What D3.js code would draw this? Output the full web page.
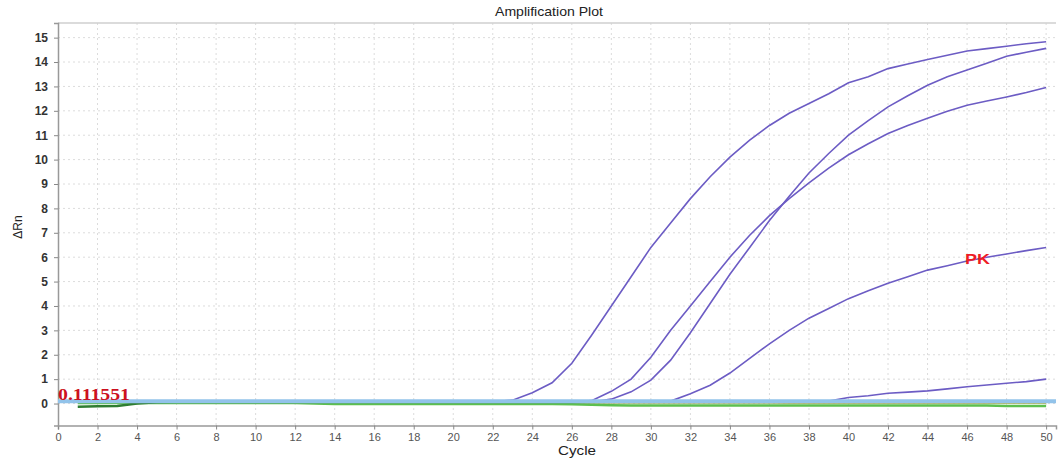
<!DOCTYPE html>
<html>
<head>
<meta charset="utf-8">
<script src="https://cdn.jsdelivr.net/npm/d3@7"></script>
<style>
  body { margin: 0; background: #fff; }
  svg { display: block; font-family: "Liberation Sans", Arial, sans-serif; }
</style>
</head>
<body>
<svg id="chart" width="1060" height="462"></svg>
<script>
// cycles shared by every well
const cycles = d3.range(1, 51)

// amplification curves (ΔRn per cycle 1..50)
const wellA = [0.06,0.06,0.06,0.06,0.06,0.06,0.06,0.06,0.06,0.06, 0.06,0.06,0.06,0.06,0.06,0.06,0.06,0.06,0.06,0.06, 0.06,0.07,0.14,0.44,0.85,1.65,2.8,4.0,5.2,6.4, 7.4,8.4,9.3,10.1,10.8,11.4,11.9,12.3,12.7,13.15, 13.4,13.73,13.92,14.1,14.28,14.45,14.55,14.65,14.75,14.83]
const wellB = [0.06,0.06,0.06,0.06,0.06,0.06,0.06,0.06,0.06,0.06, 0.06,0.06,0.06,0.06,0.06,0.06,0.06,0.06,0.06,0.06, 0.06,0.06,0.06,0.06,0.06,0.06,0.12,0.5,1.0,1.9, 3.0,4.0,5.0,6.0,6.9,7.7,8.4,9.05,9.65,10.2, 10.65,11.07,11.4,11.7,11.98,12.23,12.4,12.57,12.75,12.96]
const wellC = [0.06,0.06,0.06,0.06,0.06,0.06,0.06,0.06,0.06,0.06, 0.06,0.06,0.06,0.06,0.06,0.06,0.06,0.06,0.06,0.06, 0.06,0.06,0.06,0.06,0.06,0.06,0.06,0.18,0.48,0.96, 1.78,2.9,4.1,5.3,6.4,7.5,8.5,9.45,10.25,11.0, 11.6,12.16,12.62,13.05,13.4,13.67,13.95,14.24,14.4,14.56]
const wellPK = [0.06,0.06,0.06,0.06,0.06,0.06,0.06,0.06,0.06,0.06, 0.06,0.06,0.06,0.06,0.06,0.06,0.06,0.06,0.06,0.06, 0.06,0.06,0.06,0.06,0.06,0.06,0.06,0.06,0.06,0.06, 0.1,0.4,0.75,1.25,1.85,2.45,3.0,3.5,3.9,4.3, 4.62,4.93,5.2,5.47,5.65,5.84,6.0,6.13,6.27,6.4]
const wellE = [0.06,0.06,0.06,0.06,0.06,0.06,0.06,0.06,0.06,0.06, 0.06,0.06,0.06,0.06,0.06,0.06,0.06,0.06,0.06,0.06, 0.06,0.06,0.06,0.06,0.06,0.06,0.06,0.06,0.06,0.06, 0.06,0.06,0.06,0.06,0.06,0.06,0.06,0.06,0.1,0.25, 0.32,0.42,0.47,0.52,0.6,0.69,0.76,0.83,0.9,1.0]

// flat negative controls
const ctrlGreen = [0.02,0.02,0.02,0.02,0.02,0.02,0.02,0.02,0.02,0.02, 0.02,0.02,0.0,-0.02,-0.02,-0.02,-0.02,-0.02,-0.02,-0.02, -0.02,-0.02,-0.02,-0.02,-0.02,-0.03,-0.05,-0.07,-0.08,-0.08, -0.08,-0.08,-0.08,-0.08,-0.08,-0.08,-0.08,-0.08,-0.08,-0.08, -0.08,-0.08,-0.08,-0.08,-0.08,-0.08,-0.08,-0.1,-0.1,-0.1]
const ctrlDark = [-0.13,-0.11,-0.1,0.0,0.05,0.06,0.06,0.06,0.06,0.06, 0.06,0.06,0.06,0.06,0.06,0.06,0.06,0.06,0.06,0.06, 0.06,0.06,0.06,0.06,0.06,0.06,0.06,0.06,0.06,0.06, 0.06,0.06,0.06,0.06,0.06,0.06,0.06,0.06,0.06,0.06, 0.06,0.06,0.06,0.06,0.06,0.06,0.06,0.06,0.06,0.06]
const ctrlYellow = [0.03,0.03,0.03,0.03,0.03,0.03,0.03,0.03,0.03,0.03, 0.03,0.03,0.03,0.03,0.03,0.03,0.03,0.03,0.03,0.03, 0.03,0.03,0.03,0.03,0.03,0.03,0.03,0.03,0.03,0.03, 0.03,0.03,0.03,0.03,0.03,0.03,0.02,0.02,0.02,0.02, 0.02,0.02,0.02,0.02,0.02,0.02,0.02,0.02,0.02,0.02]

const threshold = 0.111551
const xTicks = d3.range(0, 51, 2)
const yTicks = d3.range(0, 16, 1)

const svg = d3.select("#chart")
const x = d3.scaleLinear().domain([0, 50.5]).range([58, 1056])
const y = d3.scaleLinear().domain([-0.9, 15.6]).range([425.5, 23])

// grid
svg.append("g").selectAll("line").data(yTicks).join("line")
  .attr("x1", 58).attr("x2", 1056)
  .attr("y1", d => y(d)).attr("y2", d => y(d))
  .attr("stroke", "#dcdcdc").attr("stroke-dasharray", "2,3")
svg.append("g").selectAll("line").data(xTicks.slice(1)).join("line")
  .attr("x1", d => x(d)).attr("x2", d => x(d))
  .attr("y1", 23).attr("y2", 425.5)
  .attr("stroke", "#dcdcdc").attr("stroke-dasharray", "2,3")

// frame top
svg.append("line").attr("x1", 58).attr("x2", 1056).attr("y1", 23).attr("y2", 23)
  .attr("stroke", "#cfcfcf").attr("stroke-width", 1.5)

// axes
const xAxis = svg.append("g").attr("transform", "translate(0,425.5)")
  .call(d3.axisBottom(x).tickValues(xTicks).tickSize(4).tickPadding(4))
const yAxis = svg.append("g").attr("transform", "translate(58,0)")
  .call(d3.axisLeft(y).tickValues(yTicks).tickSize(4).tickPadding(6))
xAxis.select(".domain").attr("stroke", "#999").attr("stroke-width", 1.5)
yAxis.select(".domain").attr("stroke", "#999").attr("stroke-width", 1.5)
svg.selectAll(".tick line").attr("stroke", "#888")
xAxis.selectAll("text").attr("font-size", 11).attr("fill", "#555")
yAxis.selectAll("text").attr("font-size", 12).attr("font-weight", "bold").attr("fill", "#333")

const line = d3.line().x((d, i) => x(cycles[i])).y(d => y(d))

// controls
svg.append("path").datum(ctrlYellow).attr("d", line)
  .attr("fill", "none").attr("stroke", "#e8c040").attr("stroke-width", 1.2)
svg.append("path").datum(ctrlGreen).attr("d", line)
  .attr("fill", "none").attr("stroke", "#5cbf4f").attr("stroke-width", 2.5)
svg.append("path").datum(ctrlDark).attr("d", line)
  .attr("fill", "none").attr("stroke", "#2e7d32").attr("stroke-width", 2.5)

// amplification curves
const wells = [wellA, wellB, wellC, wellPK, wellE]
svg.append("g").selectAll("path").data(wells).join("path")
  .attr("d", d => line(d))
  .attr("fill", "none")
  .attr("stroke", "#6c5cc4")
  .attr("stroke-width", 1.6)

// threshold drawn over the baselines
svg.append("line")
  .attr("x1", 58).attr("x2", 1056)
  .attr("y1", y(threshold) + 0.5).attr("y2", y(threshold) + 0.5)
  .attr("stroke", "#92c3ea").attr("stroke-width", 4)

// labels
svg.append("text").attr("x", 58).attr("y", 400)
  .attr("font-family", "Liberation Serif, serif").attr("font-weight", "bold")
  .attr("font-size", 16).attr("textLength", 72).attr("lengthAdjust", "spacingAndGlyphs")
  .attr("fill", "#cc1020").text(threshold.toString())
svg.append("text").attr("x", 965).attr("y", 264)
  .attr("font-weight", "bold").attr("font-size", 14).attr("textLength", 25)
  .attr("lengthAdjust", "spacingAndGlyphs").attr("fill", "#ee1c25").text("PK")

svg.append("text").attr("x", 549).attr("y", 16).attr("text-anchor", "middle")
  .attr("font-size", 13).attr("textLength", 108).attr("lengthAdjust", "spacingAndGlyphs")
  .attr("fill", "#222").text("Amplification Plot")
svg.append("text").attr("x", 577).attr("y", 455).attr("text-anchor", "middle")
  .attr("font-size", 12.5).attr("textLength", 38).attr("lengthAdjust", "spacingAndGlyphs")
  .attr("fill", "#222").text("Cycle")
svg.append("text").attr("transform", "translate(22,227) rotate(-90)").attr("text-anchor", "middle")
  .attr("font-size", 12).attr("fill", "#222").text("ΔRn")
</script>
</body>
</html>
